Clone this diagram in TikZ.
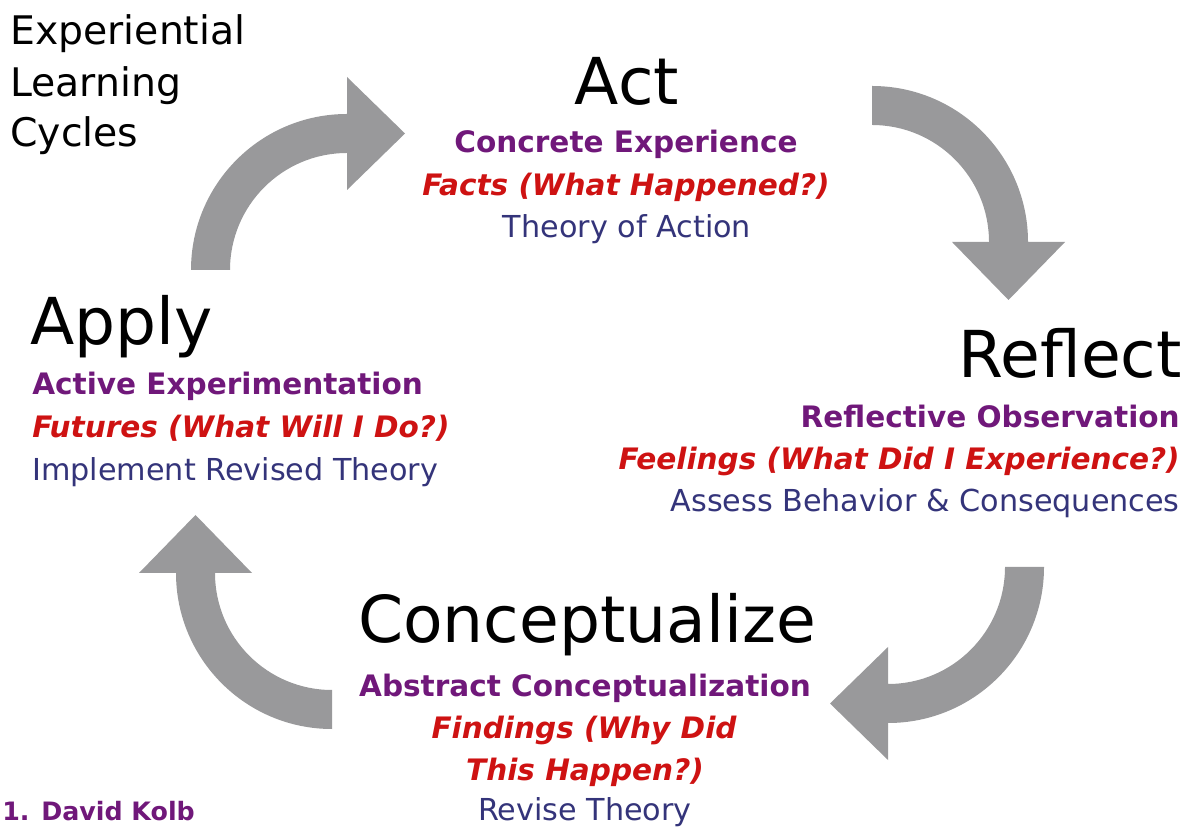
\documentclass[tikz,border=0pt]{standalone}
\usepackage{fontspec}
\setmainfont{DejaVu Sans}
\usepackage{tikz}

\definecolor{arrowgray}{RGB}{153,153,155}
\definecolor{termpurple}{RGB}{112,24,122}
\definecolor{termred}{RGB}{206,18,18}
\definecolor{termblue}{RGB}{52,52,122}

\begin{document}
\begin{tikzpicture}[x=0.025cm, y=0.025cm,
  heading/.style={inner sep=0, font=\fontsize{28}{32}\selectfont},
  phase/.style={inner sep=0, font=\fontsize{46}{50}\selectfont},
  mode/.style={inner sep=0, text=termpurple, font=\fontsize{21}{24}\selectfont\bfseries},
  question/.style={inner sep=0, text=termred, font=\fontsize{21}{24}\selectfont\bfseries\itshape},
  theory/.style={inner sep=0, text=termblue, font=\fontsize{21.5}{24}\selectfont},
  cyclearrow/.style={fill=arrowgray}]

\fill[white] (0,0) rectangle (1188,828);
\useasboundingbox (0,0) rectangle (1188,828);

% Title
\node[heading, anchor=base west] (title1) at (10,783) {Experiential};
\node[heading, anchor=base west] (title2) at (10,731) {Learning};
\node[heading, anchor=base west] (title3) at (10,681) {Cycles};

% Act
\node[phase, anchor=base] (act) at (627,723) {Act};
\node[mode, anchor=base] (actmode) at (626,675) {Concrete Experience};
\node[question, anchor=base] (actq) at (626,632) {Facts (What Happened?)};
\node[theory, anchor=base] (actth) at (627,590) {Theory of Action};

% Reflect
\node[phase, anchor=base east] (reflect) at (1182,450) {Reflect};
\node[mode, anchor=base east] (reflmode) at (1180,400) {Reflective Observation};
\node[question, anchor=base east] (reflq) at (1180,358) {Feelings (What Did I Experience?)};
\node[theory, anchor=base east] (reflth) at (1180,316) {Assess Behavior \& Consequences};

% Conceptualize
\node[phase, anchor=base] (concept) at (587,185) {Conceptualize};
\node[mode, anchor=base] (concmode) at (585,131) {Abstract Conceptualization};
\node[question, anchor=base] (concq1) at (584,90) {Findings (Why Did};
\node[question, anchor=base] (concq2) at (585,48) {This Happen?)};
\node[theory, anchor=base] (concth) at (585,8) {Revise Theory};

% Apply
\node[phase, anchor=base west] (apply) at (30,483) {Apply};
\node[mode, anchor=base west] (applmode) at (32,433) {Active Experimentation};
\node[question, anchor=base west] (applq) at (32,390) {Futures (What Will I Do?)};
\node[theory, anchor=base west] (applth) at (32,347) {Implement Revised Theory};

% Source
\node[inner sep=0, anchor=base west, text=termpurple, font=\fontsize{18}{20}\selectfont\bfseries] (source) at (2,8) {1. David Kolb};

% Apply -> Act
\fill[cyclearrow, shift={(347,558)}] (-156,0) arc[start angle=180, end angle=90, radius=156]
  -- (0,193) -- (58,136.5) -- (0,80) -- (0,117) arc[start angle=90, end angle=180, radius=117] -- cycle;
% Act -> Reflect
\fill[cyclearrow, shift={(872,586)}, rotate=-90] (-156,0) arc[start angle=180, end angle=90, radius=156]
  -- (0,193) -- (58,136.5) -- (0,80) -- (0,117) arc[start angle=90, end angle=180, radius=117] -- cycle;
% Reflect -> Conceptualize
\fill[cyclearrow, shift={(888,261)}, rotate=180] (-156,0) arc[start angle=180, end angle=90, radius=156]
  -- (0,193) -- (58,136.5) -- (0,80) -- (0,117) arc[start angle=90, end angle=180, radius=117] -- cycle;
% Conceptualize -> Apply
\fill[cyclearrow, shift={(332,255)}, rotate=90] (-156,0) arc[start angle=180, end angle=90, radius=156]
  -- (0,193) -- (58,136.5) -- (0,80) -- (0,117) arc[start angle=90, end angle=180, radius=117] -- cycle;

\end{tikzpicture}
\end{document}
